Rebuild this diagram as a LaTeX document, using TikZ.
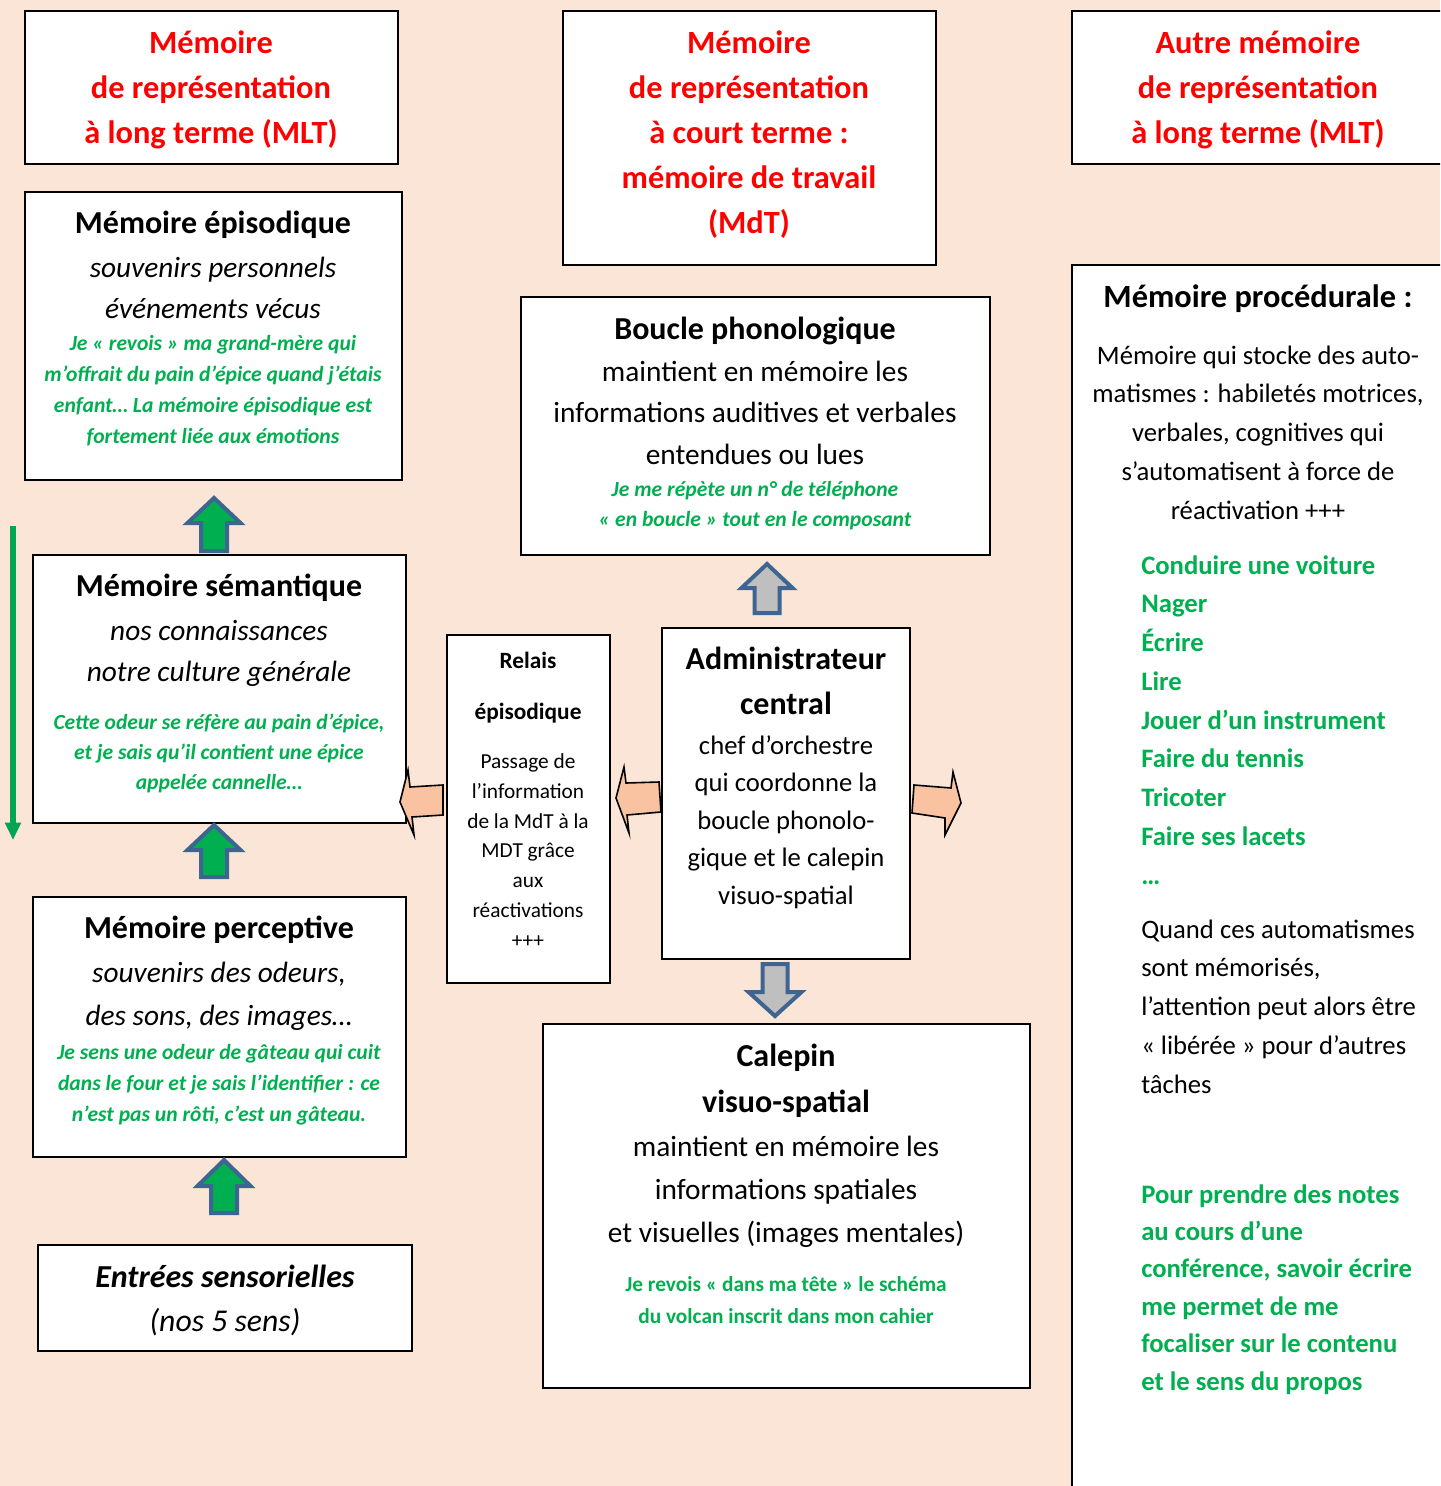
\documentclass[tikz,border=0pt]{standalone}
\usepackage{fontspec}
\setmainfont{Carlito}
\usetikzlibrary{arrows.meta}
\definecolor{bgT}{HTML}{FBE5D6}
\definecolor{redT}{HTML}{FF0000}
\definecolor{greenT}{HTML}{00B050}
\definecolor{greenL}{HTML}{00A651}
\definecolor{blueB}{HTML}{3E6491}
\definecolor{grayF}{HTML}{BFBFBF}
\definecolor{salmonF}{HTML}{F9C3A1}
\newcommand\txtlines[6]{%
  \foreach \t [count=\i] in {#6} {\node[#2] (#1\i) at ({#3},{#4+(\i-1)*#5}) {\t};}}
\begin{document}
\begin{tikzpicture}[x=0.75pt,y=-0.75pt,
  box/.style 2 args={draw=black, line width=1.5pt, fill=white, inner sep=0pt,
     minimum width=#1*0.75pt, minimum height=#2*0.75pt},
  tx/.style={inner sep=0pt, anchor=base},
  txw/.style={inner sep=0pt, anchor=base west},
  redt/.style={tx, font=\fontsize{24.3}{28}\selectfont\bfseries, text=redT},
  ttl/.style={tx, font=\fontsize{24}{28}\selectfont\bfseries},
  itl/.style={tx, font=\fontsize{22}{26}\selectfont\itshape},
  gi/.style={tx, font=\fontsize{16.2}{19}\selectfont\bfseries\itshape, text=greenT},
  gb/.style={tx, font=\fontsize{16}{19}\selectfont\bfseries, text=greenT},
  nrm/.style={tx, font=\fontsize{22}{26}\selectfont},
  blk/.style={line width=3pt, draw=blueB, line join=miter},
  sal/.style={line width=1.2pt, draw=black, fill=salmonF, line join=miter}
]
\useasboundingbox (0,0) rectangle (1440,1486);
\clip (0,0) rectangle (1440,1486);
\fill[bgT] (0,0) rectangle (1440,1486);

% boxes
\node[box={373}{153}] (tl) at (211.5,87.5) {};
\node[box={373}{254}] (tm) at (749.5,138) {};
\node[box={388}{153}] (tr) at (1266,87.5) {};
\node[box={377}{288}] (ep) at (213.5,336) {};
\node[box={373}{268}] (se) at (219.5,689) {};
\node[box={373}{260}] (pe) at (219.5,1027) {};
\node[box={374}{106}] (en) at (225,1298) {};
\node[box={163}{348}] (re) at (528.5,809) {};
\node[box={469}{258}] (bo) at (755.5,426) {};
\node[box={248}{331}] (ad) at (786,793.5) {};
\node[box={487}{364}] (ca) at (786.5,1206) {};
\node[box={388}{1235}] (pr) at (1266,882.5) {};

% red titles
\txtlines{tlT}{redt}{211}{53}{45}{{Mémoire},{de représentation},{à long terme (MLT)}}
\txtlines{tmT}{redt}{749}{53}{45}{{Mémoire},{de représentation},{à court terme :},{mémoire de travail},{(MdT)}}
\txtlines{trT}{redt}{1258}{53}{45}{{Autre mémoire},{de représentation},{à long terme (MLT)}}

% episodique
\node[ttl] (epT) at (213,233) {Mémoire épisodique};
\txtlines{epI}{itl}{213}{277}{41}{{souvenirs personnels},{événements vécus}}
\txtlines{epG}{gi}{213}{350.7}{31}{{Je « revois » ma grand-mère qui},{m’offrait du pain d’épice quand j’étais},{enfant… La mémoire épisodique est},{fortement liée aux émotions}}

% semantique
\node[ttl] (seT) at (219,596) {Mémoire sémantique};
\txtlines{seI}{itl}{219}{640}{41}{{nos connaissances},{notre culture générale}}
\txtlines{seG}{gi}{219}{729.7}{30}{{Cette odeur se réfère au pain d’épice,},{et je sais qu’il contient une épice},{appelée cannelle…}}

% perceptive
\node[ttl] (peT) at (219,938) {Mémoire perceptive};
\txtlines{peI}{itl}{219}{982}{43}{{souvenirs des odeurs,},{des sons, des images…}}
\txtlines{peG}{gi}{219}{1059.7}{31}{{Je sens une odeur de gâteau qui cuit},{dans le four et je sais l’identifier : ce},{n’est pas un rôti, c’est un gâteau.}}

% entrees
\node[tx, font=\fontsize{24}{28}\selectfont\bfseries\itshape] (enT) at (225,1287) {Entrées sensorielles};
\node[tx, font=\fontsize{23.8}{28}\selectfont\itshape] (enI) at (225,1331.5) {(nos 5 sens)};

% boucle
\node[ttl] (boT) at (755,339) {Boucle phonologique};
\txtlines{boN}{nrm}{755}{381}{41.5}{{maintient en mémoire les},{informations auditives et verbales},{entendues ou lues}}
\txtlines{boG}{gi}{755}{496.7}{30}{{Je me répète un n° de téléphone},{« en boucle » tout en le composant}}

% relais
\txtlines{reT}{tx, font=\fontsize{17.5}{21}\selectfont\bfseries}{528}{668.5}{51}{{Relais},{épisodique}}
\txtlines{reN}{tx, font=\fontsize{16}{19}\selectfont}{528}{768.5}{29.8}{{Passage de},{l’information},{de la MdT à la},{MDT grâce},{aux},{réactivations},{+++}}

% administrateur
\txtlines{adT}{ttl}{786}{669}{45}{{Administrateur},{central}}
\txtlines{adN}{tx, font=\fontsize{20}{24}\selectfont}{786}{754.3}{37.5}{{chef d’orchestre},{qui coordonne la},{boucle phonolo-},{gique et le calepin},{visuo-spatial}}

% calepin
\txtlines{caT}{ttl}{786}{1066}{46}{{Calepin},{visuo-spatial}}
\txtlines{caN}{nrm}{786}{1156}{43}{{maintient en mémoire les},{informations spatiales},{et visuelles (images mentales)}}
\txtlines{caG}{gb}{786}{1291.7}{32}{{Je revois « dans ma tête » le schéma},{du volcan inscrit dans mon cahier}}

% procedurale
\node[tx, font=\fontsize{24.3}{28}\selectfont\bfseries] (prT) at (1258,307.5) {Mémoire procédurale :};
\txtlines{prN}{tx, font=\fontsize{20}{24}\selectfont}{1258}{364}{38.75}{{Mémoire qui stocke des auto-},{matismes : habiletés motrices,},{verbales, cognitives qui},{s’automatisent à force de},{réactivation +++}}
\txtlines{prG}{txw, font=\fontsize{20}{24}\selectfont\bfseries, text=greenT}{1141}{574}{38.75}{{Conduire une voiture},{Nager},{Écrire},{Lire},{Jouer d’un instrument},{Faire du tennis},{Tricoter},{Faire ses lacets},{…}}
\txtlines{prQ}{txw, font=\fontsize{20}{24}\selectfont}{1141}{938}{38.75}{{Quand ces automatismes},{sont mémorisés,},{l’attention peut alors être},{« libérée » pour d’autres},{tâches}}
\txtlines{prP}{txw, font=\fontsize{20}{24}\selectfont\bfseries, text=greenT}{1141}{1203}{37.4}{{Pour prendre des notes},{au cours d’une},{conférence, savoir écrire},{me permet de me},{focaliser sur le contenu},{et le sens du propos}}

% green block arrows (up)
\foreach \cx/\tp/\hd/\bt in {214/498/523/551, 214/825/850/877, 224/1160/1186/1213}{
  \filldraw[blk, fill=greenT] (\cx,\tp) -- (\cx+26.5,\hd) -- (\cx+13,\hd) -- (\cx+13,\bt)
     -- (\cx-13,\bt) -- (\cx-13,\hd) -- (\cx-26.5,\hd) -- cycle;}

% gray block arrows
\filldraw[blk, fill=grayF] (767,564) -- (792.5,588) -- (779.5,588) -- (779.5,613)
   -- (754.5,613) -- (754.5,588) -- (741.5,588) -- cycle;
\filldraw[blk, fill=grayF] (775,1016) -- (801.5,992) -- (787.5,992) -- (787.5,964)
   -- (762.5,964) -- (762.5,992) -- (748.5,992) -- cycle;

% salmon arrows
\filldraw[sal] (400,802) -- (408,770) -- (410,787) -- (443,785) -- (443,815) -- (412,817) -- (414,835) -- cycle;
\filldraw[sal] (616,798) -- (624,767) -- (626,783) -- (659,782) -- (661,812) -- (627,815) -- (629,833) -- cycle;
\filldraw[sal] (914,785) -- (951,788) -- (953,772) -- (961,803) -- (945,835) -- (945,818) -- (912,813) -- cycle;

% green vertical arrow
\coordinate (gA) at (13,526);
\coordinate (gB) at (13,840);
\draw[greenL, line width=4pt, -{Triangle[width=11.5pt,length=13pt]}] (gA) -- (gB);
\end{tikzpicture}
\end{document}
